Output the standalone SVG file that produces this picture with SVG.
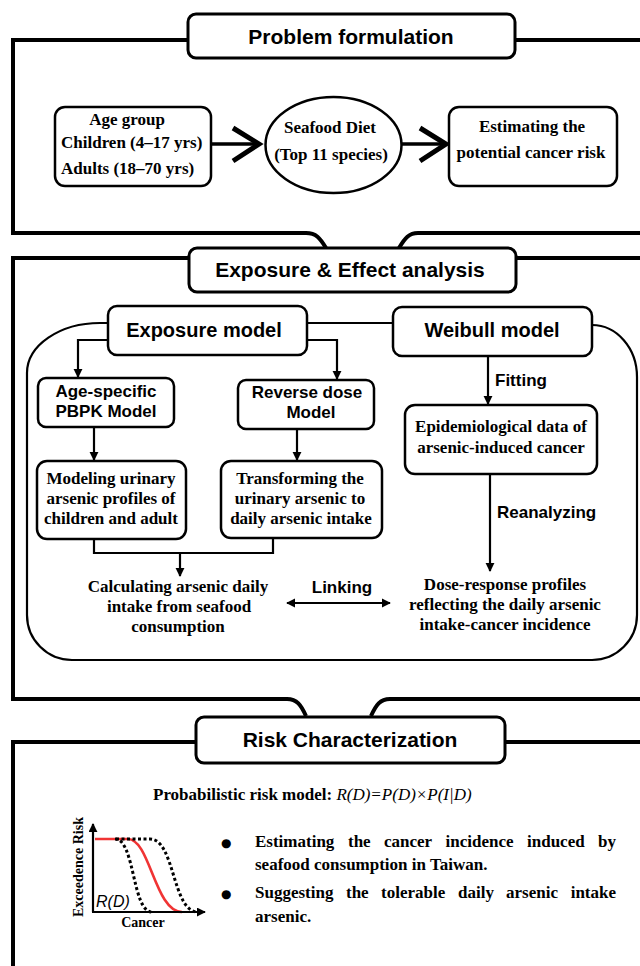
<svg xmlns="http://www.w3.org/2000/svg" width="640" height="966" viewBox="0 0 640 966">
<defs>
<style>
.frame{fill:none;stroke:#000;stroke-width:4}
.title{fill:#fff;stroke:#000;stroke-width:3}
.box{fill:#fff;stroke:#000;stroke-width:2.5}
.cont{fill:none;stroke:#000;stroke-width:2.2}
.ln{fill:none;stroke:#000;stroke-width:2.2}
.thick{fill:none;stroke:#000;stroke-width:3.5}
.chev{fill:none;stroke:#000;stroke-width:5;stroke-linejoin:miter}
.h1{font-family:"Liberation Sans",Arial,sans-serif;font-weight:bold;font-size:21px;text-anchor:middle}
.h2{font-family:"Liberation Sans",Arial,sans-serif;font-weight:bold;font-size:20px;text-anchor:middle}
.h3{font-family:"Liberation Sans",Arial,sans-serif;font-weight:bold;font-size:17px}
.t{font-family:"Liberation Serif","Times New Roman",serif;font-weight:bold;font-size:17px}
.s{font-family:"Liberation Serif","Times New Roman",serif;font-weight:bold;font-size:14px}
.m{text-anchor:middle}
.red{fill:none;stroke:#f03434;stroke-width:2.6}
.dot{fill:none;stroke:#000;stroke-width:3;stroke-dasharray:3 2.5}
</style>
<marker id="ah" viewBox="0 0 10 10" refX="9" refY="5" markerUnits="userSpaceOnUse" markerWidth="9" markerHeight="10" orient="auto-start-reverse"><path d="M0,0 L10,5 L0,10 z"/></marker>
<marker id="ah2" viewBox="0 0 10 10" refX="9" refY="5" markerUnits="userSpaceOnUse" markerWidth="9" markerHeight="9" orient="auto"><path d="M0,0 L10,5 L0,10 z"/></marker>
<path id="chevron" d="M-26,-16 L0,0 L-26,17"/>
</defs>
<rect x="0" y="0" width="640" height="966" fill="#fff"/>

<g id="frames">
<path class="frame" d="M188 40 H13 V233 H306 C316 233 320 238 326 248"/>
<path class="frame" d="M515 40 H645"/>
<path class="frame" d="M399 248 C405 238 409 233 418 233 H645"/>
<path class="frame" d="M189 258 H13 V699 H287 C297 699 301 705 306 716"/>
<path class="frame" d="M516 258 H645"/>
<path class="frame" d="M371 716 C376 705 380 699 390 699 H645"/>
<path class="frame" d="M196 742 H13 V970"/>
<path class="frame" d="M505 742 H645"/>
<path id="exposure-container" class="cont" d="M108 323 H100 A73 50 0 0 0 27 373 V615 A45 45 0 0 0 72 660 H592 A45 45 0 0 0 637 615 V377 A45 52 0 0 0 592 325"/>
</g>

<g id="connectors">
<line class="thick" x1="211" y1="144" x2="256" y2="144"/>
<use href="#chevron" class="chev" x="259" y="144"/>
<line class="thick" x1="402" y1="144" x2="443" y2="144"/>
<use href="#chevron" class="chev" x="446" y="144"/>
<line class="ln" x1="307" y1="323" x2="393" y2="323"/>
<path class="ln" d="M108 340 H78 V377" marker-end="url(#ah)"/>
<path class="ln" d="M307 340 H337 V379" marker-end="url(#ah)"/>
<path class="ln" d="M488 356 V404" marker-end="url(#ah)"/>
<path class="ln" d="M94 427 V460" marker-end="url(#ah)"/>
<path class="ln" d="M297 429 V460" marker-end="url(#ah)"/>
<path class="ln" d="M94 539 V553 H273 V538"/>
<path class="ln" d="M180 553 V576" marker-end="url(#ah)"/>
<path class="ln" d="M490 474 V571" marker-end="url(#ah)"/>
<path class="ln" d="M287 603 H390" marker-start="url(#ah)" marker-end="url(#ah)"/>
<text class="h3" x="495" y="386">Fitting</text>
<text class="h3" x="497" y="518">Reanalyzing</text>
<text class="h3 m" x="342" y="593">Linking</text>
</g>

<g id="problem-formulation">
<rect class="title" x="188" y="14" width="327" height="44" rx="8"/>
<text class="h1" x="351" y="44">Problem formulation</text>
</g>
<g id="age-group">
<rect class="box" x="55" y="107" width="156" height="79" rx="10"/>
<text class="t m" x="127" y="125">Age group</text>
<text class="t" x="61" y="148">Children (4–17 yrs)</text>
<text class="t" x="61" y="174">Adults (18–70 yrs)</text>
</g>
<g id="seafood-diet">
<ellipse class="box" cx="333.5" cy="145" rx="68" ry="48"/>
<text class="t m" x="330" y="133">Seafood Diet</text>
<text class="t m" x="331" y="160">(Top 11 species)</text>
</g>
<g id="estimating-risk">
<rect class="box" x="449" y="107" width="168" height="79" rx="10"/>
<text class="t m" x="532" y="132">Estimating the</text>
<text class="t m" x="531" y="158">potential cancer risk</text>
</g>

<g id="exposure-effect-analysis">
<rect class="title" x="189" y="248" width="327" height="44" rx="8"/>
<text class="h1" x="350" y="277">Exposure &amp; Effect analysis</text>
</g>
<g id="exposure-model">
<rect class="box" x="108" y="306" width="199" height="49" rx="9"/>
<text class="h2" x="204" y="337">Exposure model</text>
</g>
<g id="weibull-model">
<rect class="box" x="393" y="307" width="199" height="49" rx="9"/>
<text class="h2" x="492" y="337">Weibull model</text>
</g>
<g id="pbpk-model">
<rect class="box" x="38" y="378" width="136" height="49" rx="8"/>
<text class="h3 m" x="106" y="397">Age-specific</text>
<text class="h3 m" x="106" y="417">PBPK Model</text>
</g>
<g id="reverse-dose-model">
<rect class="box" x="238" y="380" width="136" height="49" rx="8"/>
<text class="h3 m" x="307" y="398">Reverse dose</text>
<text class="h3 m" x="311" y="418">Model</text>
</g>
<g id="epidemiological-data">
<rect class="box" x="405" y="405" width="192" height="69" rx="10"/>
<text class="t m" x="501" y="432">Epidemiological data of</text>
<text class="t m" x="501" y="453">arsenic-induced cancer</text>
</g>
<g id="modeling-urinary">
<rect class="box" x="37" y="461" width="149" height="78" rx="10"/>
<text class="t m" x="111" y="484">Modeling urinary</text>
<text class="t m" x="111" y="504">arsenic profiles of</text>
<text class="t m" x="111" y="524">children and adult</text>
</g>
<g id="transforming-urinary">
<rect class="box" x="221" y="461" width="161" height="77" rx="10"/>
<text class="t m" x="300" y="484">Transforming the</text>
<text class="t m" x="300" y="504">urinary arsenic to</text>
<text class="t m" x="301" y="524">daily arsenic intake</text>
</g>
<g id="calculating-intake">
<text class="t m" x="178" y="592">Calculating arsenic daily</text>
<text class="t m" x="179" y="612">intake from seafood</text>
<text class="t m" x="178" y="632">consumption</text>
</g>
<g id="dose-response">
<text class="t m" x="505" y="590">Dose-response profiles</text>
<text class="t m" x="505" y="610">reflecting the daily arsenic</text>
<text class="t m" x="505" y="630">intake-cancer incidence</text>
</g>

<g id="risk-characterization">
<rect class="title" x="196" y="717" width="309" height="46" rx="8"/>
<text class="h1" x="350" y="747">Risk Characterization</text>
</g>
<g id="risk-model">
<text class="t" x="153" y="800">Probabilistic risk model: <tspan font-style="italic" font-weight="normal">R(D)=P(D)×P(I|D)</tspan></text>
</g>
<g id="risk-chart">
<path class="red" d="M95 839 H128 C150 839 155 912 182 912"/>
<path class="dot" d="M115 839 C135 839 132 912 152 912"/>
<path class="dot" d="M116 839 H150 C175 839 172 912 198 912"/>
<path class="ln" stroke-width="2.6" d="M93 912 V824" marker-end="url(#ah2)"/>
<path class="ln" stroke-width="2.6" d="M92 912 H205" marker-end="url(#ah2)"/>
<text x="96" y="907" font-family="Liberation Sans, Arial, sans-serif" font-style="italic" font-size="16">R(D)</text>
<text class="s m" transform="translate(83 867) rotate(-90)">Exceedence Risk</text>
<text class="s m" x="143" y="927">Cancer</text>
</g>
<g id="findings">
<text x="221" y="847" font-family="DejaVu Sans, sans-serif" font-size="12">●</text>
<text class="t" y="847"><tspan x="255">Estimating</tspan><tspan x="348">the</tspan><tspan x="384">cancer</tspan><tspan x="445.5">incidence</tspan><tspan x="527">induced</tspan><tspan x="616" text-anchor="end">by</tspan></text>
<text class="t" x="255" y="870">seafood consumption in Taiwan.</text>
<text x="221" y="898" font-family="DejaVu Sans, sans-serif" font-size="12">●</text>
<text class="t" y="898"><tspan x="255">Suggesting</tspan><tspan x="346">the</tspan><tspan x="381">tolerable</tspan><tspan x="458">daily</tspan><tspan x="506">arsenic</tspan><tspan x="616" text-anchor="end">intake</tspan></text>
<text class="t" x="255" y="922">arsenic.</text>
</g>
</svg>
